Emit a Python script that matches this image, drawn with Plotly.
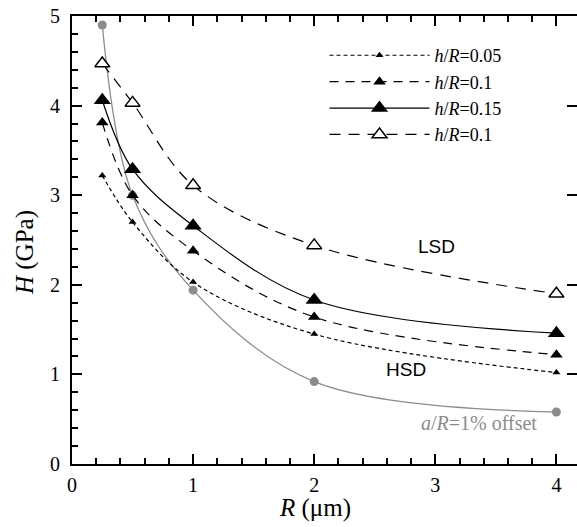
import plotly.graph_objects as go

R = [0.25, 0.5, 1, 2, 4]
H_005 = [3.22, 2.70, 2.03, 1.45, 1.02]
H_010 = [3.81, 3.00, 2.38, 1.64, 1.22]
H_015 = [4.06, 3.29, 2.66, 1.83, 1.46]
H_010_open = [4.47, 4.03, 3.11, 2.44, 1.90]
H_offset = [4.90, 3.00, 1.94, 0.92, 0.58]

SERIF = "'Liberation Serif', 'Times New Roman', Times, serif"
SANS = "'Liberation Sans', Arial, sans-serif"

fig = go.Figure()

fig.add_trace(go.Scatter(
    x=R, y=H_offset, mode="lines+markers", showlegend=False,
    line=dict(color="#8c8c8c", width=1.3, shape="spline", smoothing=1.0),
    marker=dict(symbol="circle", size=9, color="#8c8c8c"),
))
fig.add_trace(go.Scatter(
    x=R, y=H_005, mode="lines+markers", name="<i>h</i>/<i>R</i>=0.05",
    line=dict(color="black", width=1.2, dash="4px,3px", shape="spline", smoothing=1.0),
    marker=dict(symbol="triangle-up", size=7, color="black"),
))
fig.add_trace(go.Scatter(
    x=R, y=H_010, mode="lines+markers", name="<i>h</i>/<i>R</i>=0.1",
    line=dict(color="black", width=1.2, dash="9px,7px", shape="spline", smoothing=1.0),
    marker=dict(symbol="triangle-up", size=11, color="black"),
))
fig.add_trace(go.Scatter(
    x=R, y=H_015, mode="lines+markers", name="<i>h</i>/<i>R</i>=0.15",
    line=dict(color="black", width=1.2, shape="spline", smoothing=1.0),
    marker=dict(symbol="triangle-up", size=15, color="black"),
))
fig.add_trace(go.Scatter(
    x=R, y=H_010_open, mode="lines+markers", name="<i>h</i>/<i>R</i>=0.1",
    line=dict(color="black", width=1.2, dash="11px,8px", shape="spline", smoothing=1.0),
    marker=dict(symbol="triangle-up", size=13, color="white",
                line=dict(color="black", width=1.5)),
))

# invisible trace on right axis for mirrored ticks without a line
fig.add_trace(go.Scatter(x=[None], y=[None], yaxis="y2", showlegend=False, hoverinfo="skip"))

fig.add_annotation(x=3.01, y=2.43, text="LSD", showarrow=False,
                   font=dict(family=SANS, size=19, color="black"))
fig.add_annotation(x=2.76, y=1.05, text="HSD", showarrow=False,
                   font=dict(family=SANS, size=19, color="black"))
fig.add_annotation(x=3.36, y=0.46, text="<i>a</i>/<i>R</i>=1% offset", showarrow=False,
                   font=dict(family=SERIF, size=20, color="#8c8c8c"))

# axis titles
fig.add_annotation(xref="paper", yref="paper", x=0.481, y=-0.098, text="<i>R</i> (μm)",
                   xanchor="center", yanchor="middle",
                   showarrow=False, font=dict(family=SERIF, size=25, color="black"))
fig.add_annotation(xref="paper", yref="paper", x=-0.093, y=0.471, text="<i>H</i> (GPa)",
                   xanchor="center", yanchor="middle",
                   textangle=-90, showarrow=False, font=dict(family=SERIF, size=25, color="black"))

fig.update_layout(
    width=577, height=527,
    margin=dict(l=72, r=0, t=16, b=63),
    plot_bgcolor="white", paper_bgcolor="white",
    font=dict(family=SERIF, size=19, color="black"),
    legend=dict(x=0.5, y=0.953, xanchor="left", yanchor="top",
                font=dict(family=SERIF, size=18), itemwidth=100,
                bgcolor="rgba(0,0,0,0)", tracegroupgap=0),
    xaxis=dict(range=[0, 4.17], tickvals=[0, 1, 2, 3, 4], showgrid=False, zeroline=False,
               showline=True, linecolor="black", linewidth=2, mirror="ticks",
               ticks="inside", ticklen=10, tickwidth=1.5, tickcolor="black",
               minor=dict(dtick=0.2, ticks="inside", ticklen=6, tickwidth=1.5, tickcolor="black"),
               tickfont=dict(family=SERIF, size=20), ticklabelstandoff=2),
    yaxis=dict(range=[0, 5], tickvals=[0, 1, 2, 3, 4, 5], showgrid=False, zeroline=False,
               showline=True, linecolor="black", linewidth=2, mirror=False,
               ticks="inside", ticklen=10, tickwidth=1.5, tickcolor="black",
               minor=dict(dtick=0.2, ticks="inside", ticklen=6, tickwidth=1.5, tickcolor="black"),
               tickfont=dict(family=SERIF, size=20), ticklabelstandoff=6),
    yaxis2=dict(range=[0, 5], overlaying="y", side="right", tickvals=[0, 1, 2, 3, 4, 5],
                showticklabels=False, showgrid=False, zeroline=False, showline=False,
                ticks="inside", ticklen=10, tickwidth=1.5, tickcolor="black"),
)

fig.write_html("out.html")
